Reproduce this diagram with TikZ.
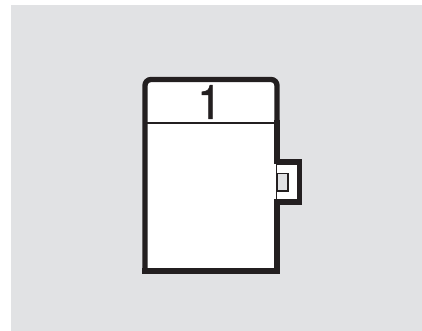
\documentclass[tikz,border=0pt]{standalone}
\usepackage{fontspec}
\setmainfont{TeX Gyre Heros}
\definecolor{bgc}{HTML}{E1E2E4}
\definecolor{ink}{HTML}{231F20}
\tikzset{thick line/.style={draw=ink,line width=4pt},thin line/.style={draw=ink,line width=1.3pt}}
\begin{document}
\begin{tikzpicture}[x=0.75pt,y=-0.75pt]
\useasboundingbox (0,0) rectangle (422,331);
\fill[white] (0,0) rectangle (422,331);
\fill[bgc] (11,5) rectangle (422,331);
\fill[white] (145,80) rectangle (277,271);
\fill[white] (277,162) rectangle (299.5,202);
\coordinate (a) at (145,271);
\coordinate (b) at (145,79.5);
\coordinate (c) at (277,79.5);
\coordinate (d) at (277,164.5);
\coordinate (e) at (299.5,162);
\coordinate (f) at (299.5,202);
\coordinate (g) at (277,199.5);
\coordinate (h) at (277,271);
\draw[thick line,rounded corners=4.5pt] (a) -- (b) -- (c) -- (277,120);
\draw[thick line] (277,120) -- (d);
\draw[thick line,line cap=rect] (279,162) -- (e) -- (f) -- (279,202);
\draw[thick line] (g) -- (h);
\draw[thick line,line cap=rect] (a) -- (h);
\draw[thin line] (276.6,162) -- (276.6,202);
\filldraw[fill=bgc,thin line] (277,173.5) rectangle (287.8,191);
\draw[thin line] (145,123.3) -- (277,123.3);
\node[inner sep=0pt,text=ink,font=\fontsize{35.5}{36}\selectfont,xscale=0.9] (n) at (209.5,102) {\addfontfeature{FakeBold=1.2}1};
\end{tikzpicture}
\end{document}
